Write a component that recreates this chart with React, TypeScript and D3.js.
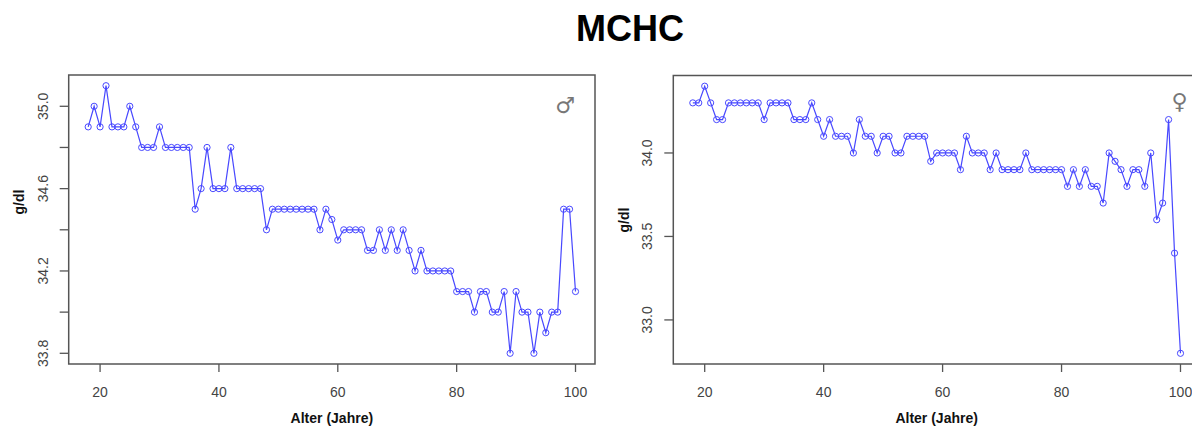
import React from "react";
import * as d3 from "d3";

const ages = [18,19,20,21,22,23,24,25,26,27,28,29,30,31,32,33,34,35,36,37,38,39,40,41,42,43,44,45,46,47,48,49,50,51,52,53,54,55,56,57,58,59,60,61,62,63,64,65,66,67,68,69,70,71,72,73,74,75,76,77,78,79,80,81,82,83,84,85,86,87,88,89,90,91,92,93,94,95,96,97,98,99,100];

const maleMCHC = [
  34.9,35.0,34.9,35.1,34.9,34.9,34.9,35.0,34.9,34.8,34.8,34.8,34.9,34.8,34.8,34.8,34.8,34.8,
  34.5,34.6,34.8,34.6,34.6,34.6,34.8,34.6,34.6,34.6,34.6,34.6,34.4,
  34.5,34.5,34.5,34.5,34.5,34.5,34.5,34.5,34.4,34.5,34.45,34.35,34.4,34.4,34.4,34.4,
  34.3,34.3,34.4,34.3,34.4,34.3,34.4,34.3,34.2,34.3,34.2,34.2,34.2,34.2,34.2,
  34.1,34.1,34.1,34.0,34.1,34.1,34.0,34.0,34.1,33.8,34.1,34.0,34.0,33.8,34.0,33.9,34.0,34.0,34.5,34.5,34.1
];

const femaleMCHC = [
  34.3,34.3,34.4,34.3,34.2,34.2,34.3,34.3,34.3,34.3,34.3,34.3,34.2,34.3,34.3,34.3,34.3,
  34.2,34.2,34.2,34.3,34.2,34.1,34.2,34.1,34.1,34.1,34.0,34.2,34.1,34.1,34.0,
  34.1,34.1,34.0,34.0,34.1,34.1,34.1,34.1,33.95,34.0,34.0,34.0,34.0,33.9,34.1,34.0,34.0,34.0,
  33.9,34.0,33.9,33.9,33.9,33.9,34.0,33.9,33.9,33.9,33.9,33.9,33.9,
  33.8,33.9,33.8,33.9,33.8,33.8,33.7,34.0,33.95,33.9,33.8,33.9,33.9,33.8,34.0,33.6,33.7,34.2,33.4,32.8
];

const xTicks = [20, 40, 60, 80, 100];
const maleYTicks = [33.8, 34.0, 34.2, 34.4, 34.6, 34.8, 35.0];
const maleYLabels = ["33.8", "", "34.2", "", "34.6", "", "35.0"];
const femaleYTicks = [33.0, 33.5, 34.0];
const femaleYLabels = ["33.0", "33.5", "34.0"];

const TITLE = "MCHC";
const X_LABEL = "Alter (Jahre)";
const Y_LABEL = "g/dl";

const BLUE = "#4848ff";
const AXIS = "#555";
const TEXT = "#444";
const FONT = "'Liberation Sans', Arial, sans-serif";

function padDomain(vals: number[]): [number, number] {
  const [lo, hi] = d3.extent(vals) as [number, number];
  const p = (hi - lo) * 0.04;
  return [lo - p, hi + p];
}

type PanelProps = {
  left: number;
  right: number;
  top: number;
  bottom: number;
  values: number[];
  yTicks: number[];
  yLabels: string[];
  symbol: string;
  symbolX: number;
  symbolY: number;
  yLabelX: number;
  yLabelY: number;
};

function Panel(p: PanelProps) {
  const x = d3.scaleLinear().domain(padDomain(ages)).range([p.left, p.right]);
  const y = d3.scaleLinear().domain(padDomain(p.values)).range([p.bottom, p.top]);
  const line = d3
    .line<number>()
    .x((_, i) => x(ages[i]))
    .y((d) => y(d));
  const cx = (p.left + p.right) / 2;
  return (
    <g>
      <path d={line(p.values) || ""} fill="none" stroke={BLUE} strokeWidth={1.2} />
      {p.values.map((v, i) => (
        <circle key={i} cx={x(ages[i])} cy={y(v)} r={3.1} fill="none" stroke={BLUE} strokeWidth={1} />
      ))}
      <rect
        x={p.left}
        y={p.top}
        width={p.right - p.left}
        height={p.bottom - p.top}
        fill="none"
        stroke={AXIS}
        strokeWidth={1.5}
      />
      {xTicks.map((t) => (
        <g key={t}>
          <line x1={x(t)} x2={x(t)} y1={p.bottom} y2={p.bottom + 8} stroke={AXIS} strokeWidth={1.3} />
          <text
            x={x(t)}
            y={392}
            textAnchor="middle"
            dominantBaseline="central"
            fontSize={14}
            fontFamily={FONT}
            fill={TEXT}
          >
            {t}
          </text>
        </g>
      ))}
      {p.yTicks.map((t, i) => (
        <g key={t}>
          <line x1={p.left - 9} x2={p.left} y1={y(t)} y2={y(t)} stroke={AXIS} strokeWidth={1.3} />
          {p.yLabels[i] && (
            <text
              transform={`translate(${p.left - 26},${y(t)}) rotate(-90)`}
              textAnchor="middle"
              dominantBaseline="central"
              fontSize={14}
              fontFamily={FONT}
              fill={TEXT}
            >
              {p.yLabels[i]}
            </text>
          )}
        </g>
      ))}
      <text
        x={cx}
        y={418}
        textAnchor="middle"
        dominantBaseline="central"
        fontSize={14}
        fontWeight="bold"
        fontFamily={FONT}
        fill="#111"
      >
        {X_LABEL}
      </text>
      <text
        transform={`translate(${p.yLabelX},${p.yLabelY}) rotate(-90)`}
        textAnchor="middle"
        dominantBaseline="central"
        fontSize={14}
        fontWeight="bold"
        fontFamily={FONT}
        fill="#111"
      >
        {Y_LABEL}
      </text>
      <text
        x={p.symbolX}
        y={p.symbolY}
        textAnchor="middle"
        dominantBaseline="central"
        fontSize={22}
        fontFamily="'DejaVu Sans', sans-serif"
        fill="#777"
      >
        {p.symbol}
      </text>
    </g>
  );
}

export default function App() {
  return (
    <svg
      width={1192}
      height={430}
      style={{ position: "absolute", left: 0, top: 0, background: "#fff", display: "block" }}
    >
      <rect x={0} y={0} width={1192} height={430} fill="#fff" />
      <text
        x={630}
        y={28}
        textAnchor="middle"
        dominantBaseline="central"
        fontSize={36}
        fontWeight="bold"
        fontFamily={FONT}
        fill="#000"
      >
        {TITLE}
      </text>
      <Panel
        left={68.7}
        right={595}
        top={75}
        bottom={364}
        values={maleMCHC}
        yTicks={maleYTicks}
        yLabels={maleYLabels}
        symbol="♂"
        symbolX={565}
        symbolY={105}
        yLabelX={19}
        yLabelY={202}
      />
      <Panel
        left={673.3}
        right={1200}
        top={75.5}
        bottom={364}
        values={femaleMCHC}
        yTicks={femaleYTicks}
        yLabels={femaleYLabels}
        symbol="♀"
        symbolX={1179.5}
        symbolY={101}
        yLabelX={624}
        yLabelY={220}
      />
    </svg>
  );
}
